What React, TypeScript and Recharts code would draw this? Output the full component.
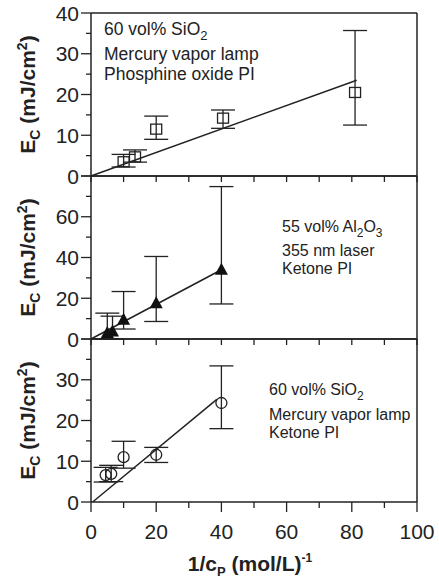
import { ScatterChart, Scatter, XAxis, YAxis, ErrorBar, ReferenceLine } from "recharts";

const FONT = '"Liberation Sans", Arial, sans-serif';
const INK = "#222";

// shared x axis
const xTicks = [0, 10, 20, 30, 40, 50, 60, 70, 80, 90, 100];

// panel 1: 60 vol% SiO2, Hg lamp, phosphine oxide PI (squares)
const p1X = [10, 13.5, 20, 40.5, 81];
const p1Y = [3.5, 4.7, 11.5, 14.2, 20.5];
const p1Lo = [1.3, 1.3, 2.5, 2.5, 8];
const p1Hi = [1.8, 1.7, 3.2, 2.0, 15.2];
const p1FitX = [0, 81.5];
const p1FitY = [0, 23.5];
const p1Ticks = [0, 5, 10, 15, 20, 25, 30, 35, 40];

// panel 2: 55 vol% Al2O3, 355 nm laser, ketone PI (triangles)
const p2X = [5, 6.6, 10, 20, 40];
const p2Y = [2.9, 3.7, 9.5, 17.5, 34];
const p2Lo = [2.9, 3.7, 4.6, 8.9, 16.8];
const p2Hi = [9.8, 7.5, 13.8, 23, 40.8];
const p2FitX = [0, 40];
const p2FitY = [0, 34];
const p2Ticks = [0, 10, 20, 30, 40, 50, 60, 70, 80];

// panel 3: 60 vol% SiO2, Hg lamp, ketone PI (circles)
const p3X = [4.5, 6.2, 10, 20, 40];
const p3Y = [6.6, 6.9, 11.0, 11.6, 24.3];
const p3Lo = [1.7, 1.9, 2.7, 1.9, 6.3];
const p3Hi = [1.9, 2.1, 3.9, 1.8, 9.1];
const p3FitX = [0.5, 38.6];
const p3FitY = [0, 25.2];
const p3Ticks = [0, 5, 10, 15, 20, 25, 30, 35, 40];

const pts = (xs: number[], ys: number[], lo: number[], hi: number[]) =>
  xs.map((x, i) => ({ x, y: ys[i], err: [lo[i], hi[i]] }));
const fit = (xs: number[], ys: number[]) => xs.map((x, i) => ({ x, y: ys[i] }));

const Square = ({ cx, cy }: any) => (
  <rect x={cx - 5.5} y={cy - 5} width={11} height={10} fill="none" stroke={INK} strokeWidth={1.3} />
);
const Triangle = ({ cx, cy }: any) => (
  <polygon points={`${cx},${cy - 7} ${cx - 6.5},${cy + 5} ${cx + 6.5},${cy + 5}`} fill="#111" />
);
const Circle = ({ cx, cy }: any) => <circle cx={cx} cy={cy} r={5.5} fill="none" stroke={INK} strokeWidth={1.3} />;
const Nothing = () => <g />;

function makeYTick(major: number, hideTop: number | null) {
  return ({ x, y, payload }: any) => {
    const v = payload.value;
    const isMajor = v % major === 0;
    return (
      <g>
        <line x1={x - (isMajor ? 10 : 5)} x2={x} y1={y} y2={y} stroke={INK} strokeWidth={1.3} />
        {isMajor && v !== hideTop && (
          <text x={x - 12} y={y + 7.5} textAnchor="end" fontSize={21} fontFamily={FONT} fill={INK}>
            {v}
          </text>
        )}
      </g>
    );
  };
}

function makeXTick(withLabels: boolean) {
  return ({ x, y, payload }: any) => {
    const v = payload.value;
    const isMajor = withLabels && v % 20 === 0;
    return (
      <g>
        <line x1={x} x2={x} y1={y} y2={y + (isMajor ? 10 : 6)} stroke={INK} strokeWidth={1.3} />
        {isMajor && (
          <text x={x} y={y + 37} textAnchor="middle" fontSize={21} fontFamily={FONT} fill={INK}>
            {v}
          </text>
        )}
      </g>
    );
  };
}

const yTitle = ({ viewBox }: any) => {
  const cy = viewBox.y + viewBox.height / 2;
  return (
    <text
      transform={`translate(28, ${cy}) rotate(-90)`}
      x={0}
      y={7}
      textAnchor="middle"
      fontSize={21}
      fontWeight="bold"
      fontFamily={FONT}
      fill={INK}
    >
      E<tspan fontSize={14} dy={5}>C</tspan>
      <tspan dy={-5}> (mJ/cm</tspan>
      <tspan fontSize={14} dy={-8}>2</tspan>
      <tspan dy={8}>)</tspan>
    </text>
  );
};

const xTitle = ({ viewBox }: any) => {
  const cx = viewBox.x + viewBox.width / 2 - 4;
  return (
    <text x={cx} y={viewBox.y + 69} textAnchor="middle" fontSize={21} fontWeight="bold" fontFamily={FONT} fill={INK}>
      1/c<tspan fontSize={13} dy={5}>P</tspan>
      <tspan dy={-5}> (mol/L)</tspan>
      <tspan fontSize={12} dy={-9}>-1</tspan>
    </text>
  );
};

type PanelProps = {
  top: number;
  height: number;
  marginTop: number;
  xHeight: number;
  yMax: number;
  yTicks: number[];
  major: number;
  hideTop: number | null;
  data: any[];
  fitData: any[];
  shape: any;
  bottom?: boolean;
};

function Panel(p: PanelProps) {
  return (
    <div style={{ position: "absolute", left: 0, top: p.top }}>
      <ScatterChart width={439} height={p.height} margin={{ top: p.marginTop, right: 22, bottom: 0, left: 0 }}>
        <XAxis
          type="number"
          dataKey="x"
          domain={[0, 100]}
          ticks={xTicks}
          interval={0}
          height={p.xHeight}
          tickSize={0}
          tickMargin={0}
          tickLine={false}
          axisLine={{ stroke: INK, strokeWidth: 1.5 }}
          tick={makeXTick(!!p.bottom)}
          label={p.bottom ? xTitle : undefined}
        />
        <YAxis
          type="number"
          dataKey="y"
          domain={[0, p.yMax]}
          ticks={p.yTicks}
          interval={0}
          width={91}
          tickSize={0}
          tickMargin={0}
          tickLine={false}
          axisLine={{ stroke: INK, strokeWidth: 1.5 }}
          tick={makeYTick(p.major, p.hideTop)}
          label={yTitle}
        />
        <ReferenceLine y={p.yMax} stroke={INK} strokeWidth={1.5} />
        <ReferenceLine x={100} stroke={INK} strokeWidth={1.5} />
        <Scatter data={p.fitData} line={{ stroke: INK, strokeWidth: 1.5 }} shape={Nothing} isAnimationActive={false} />
        <Scatter data={p.data} shape={p.shape} isAnimationActive={false}>
          <ErrorBar dataKey="err" direction="y" width={12} stroke={INK} strokeWidth={1.3} />
        </Scatter>
      </ScatterChart>
    </div>
  );
}

const tStyle = { fontFamily: FONT, fill: INK } as const;

export default function App() {
  return (
    <div style={{ position: "absolute", left: 0, top: 0, width: 439, height: 581, background: "#fff" }}>
      <Panel
        top={0}
        height={186}
        marginTop={13}
        xHeight={10}
        yMax={40}
        yTicks={p1Ticks}
        major={10}
        hideTop={null}
        data={pts(p1X, p1Y, p1Lo, p1Hi)}
        fitData={fit(p1FitX, p1FitY)}
        shape={Square}
      />
      <Panel
        top={170}
        height={179}
        marginTop={6}
        xHeight={10}
        yMax={80}
        yTicks={p2Ticks}
        major={20}
        hideTop={80}
        data={pts(p2X, p2Y, p2Lo, p2Hi)}
        fitData={fit(p2FitX, p2FitY)}
        shape={Triangle}
      />
      <Panel
        top={333}
        height={248}
        marginTop={6}
        xHeight={79}
        yMax={40}
        yTicks={p3Ticks}
        major={10}
        hideTop={40}
        data={pts(p3X, p3Y, p3Lo, p3Hi)}
        fitData={fit(p3FitX, p3FitY)}
        shape={Circle}
        bottom
      />
      <svg width={439} height={581} style={{ position: "absolute", left: 0, top: 0, pointerEvents: "none" }}>
        <g fontSize={17.5} style={tStyle}>
          <text x={104} y={35} {...tStyle}>
            60 vol% SiO<tspan fontSize={13} dy={5}>2</tspan>
          </text>
          <text x={104} y={60} {...tStyle}>Mercury vapor lamp</text>
          <text x={104} y={80} {...tStyle}>Phosphine oxide PI</text>
        </g>
        <g fontSize={16}>
          <text x={282} y={232} {...tStyle}>
            55 vol% Al<tspan fontSize={12} dy={5}>2</tspan>
            <tspan dy={-5}>O</tspan>
            <tspan fontSize={12} dy={5}>3</tspan>
          </text>
          <text x={282} y={256} {...tStyle}>355 nm laser</text>
          <text x={282} y={274} {...tStyle}>Ketone PI</text>
          <text x={269} y={395} {...tStyle}>
            60 vol% SiO<tspan fontSize={12} dy={5}>2</tspan>
          </text>
          <text x={269} y={420} {...tStyle}>Mercury vapor lamp</text>
          <text x={269} y={438} {...tStyle}>Ketone PI</text>
        </g>
      </svg>
    </div>
  );
}
